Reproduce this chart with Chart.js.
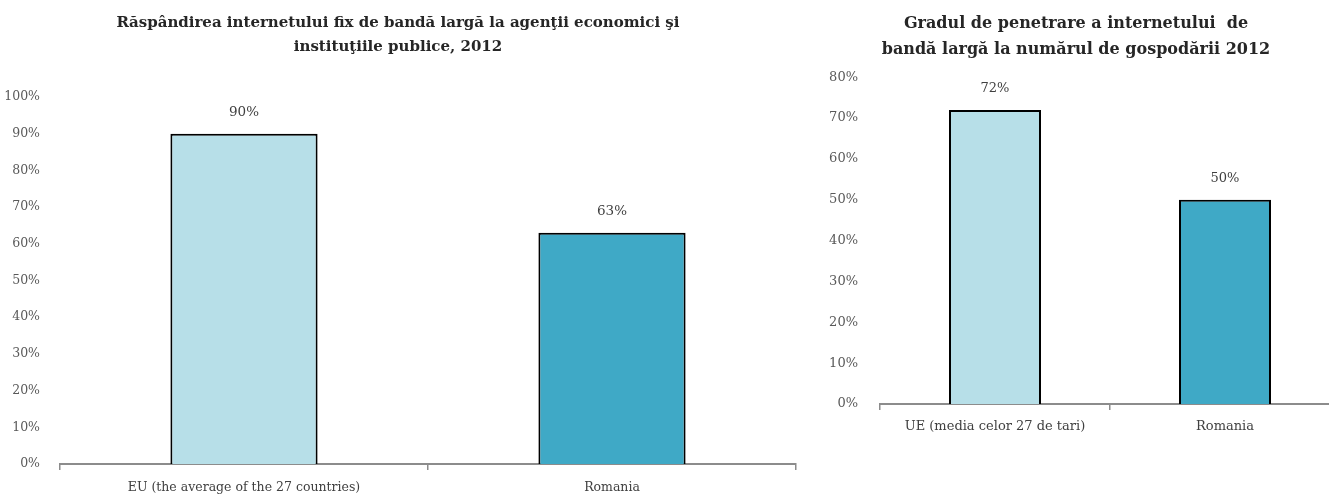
<!DOCTYPE html>
<html>
<head>
<meta charset="utf-8">
<script src="https://cdn.jsdelivr.net/npm/chart.js@4/dist/chart.umd.min.js"></script>
<style>
    html, body { margin: 0; padding: 0; background: #fff; overflow: hidden; width: 1329px; height: 497px; }
    canvas { position: absolute; top: 0; }
    #graficStanga { left: 0; }
    #graficDreapta { left: 812px; }
</style>
</head>
<body>
<canvas id="graficStanga" width="810" height="497"></canvas>
<canvas id="graficDreapta" width="540" height="497"></canvas>
<script>
const categoriiStanga = ["EU (the average of the 27 countries)", "Romania"];
const valoriStanga = [90, 63];
const categoriiDreapta = ["UE (media celor 27 de tari)", "Romania"];
const valoriDreapta = [72, 50];
const culoriBare = ["#b7dfe8", "#3fa9c6"];

const titluStanga = [
    "Răspândirea internetului fix de bandă largă la agenţii economici şi",
    "instituţiile publice, 2012"
];
const titluDreapta = [
    "Gradul de penetrare a internetului  de",
    "bandă largă la numărul de gospodării 2012"
];

// eticheta cu procentul deasupra fiecarei bare
const pluginEtichete = {
    id: "etichete",
    afterDatasetsDraw(chart, args, opts) {
        const ctx = chart.ctx;
        const meta = chart.getDatasetMeta(0);
        const date = chart.data.datasets[0].data;
        ctx.save();
        ctx.font = opts.font;
        ctx.fillStyle = "#404040";
        ctx.textAlign = "center";
        ctx.textBaseline = "middle";
        meta.data.forEach((bara, i) => {
            ctx.fillText(date[i] + "%", bara.x, bara.y - 21);
        });
        ctx.restore();
    }
};

function construiesteGrafic(lienzo, cfg) {
    return new Chart(lienzo, {
        type: "bar",
        data: {
            labels: cfg.categorii,
            datasets: [{
                data: cfg.valori,
                backgroundColor: culoriBare,
                borderColor: "#000000",
                borderWidth: 2,
                borderSkipped: "bottom",
                barPercentage: 0.4,
                categoryPercentage: 1
            }]
        },
        plugins: [pluginEtichete],
        options: {
            responsive: false,
            animation: false,
            layout: { padding: { left: 0, right: cfg.dreapta, top: 0, bottom: 0 } },
            plugins: {
                legend: { display: false },
                tooltip: { enabled: false },
                etichete: { font: cfg.fontEticheta },
                title: {
                    display: true,
                    text: cfg.titlu,
                    color: "#262626",
                    font: { family: "DejaVu Serif", size: cfg.marimeTitlu, weight: "bold", lineHeight: cfg.interlinie },
                    padding: { top: 11, bottom: cfg.subTitlu }
                }
            },
            scales: {
                y: {
                    min: 0,
                    max: cfg.max,
                    ticks: {
                        stepSize: 10,
                        padding: cfg.padY,
                        color: "#595959",
                        font: { family: "DejaVu Serif", size: cfg.marimeAxa },
                        callback: v => v + "%"
                    },
                    grid: { display: false },
                    border: { display: false },
                    afterFit: axa => { axa.width = cfg.latimeY; }
                },
                x: {
                    ticks: {
                        padding: cfg.padX,
                        color: "#404040",
                        font: { family: "DejaVu Serif", size: cfg.marimeAxa },
                        maxRotation: 0,
                        autoSkip: false
                    },
                    grid: {
                        drawOnChartArea: false,
                        drawTicks: true,
                        tickLength: 6,
                        color: "#8c8c8c",
                        lineWidth: 1.5
                    },
                    border: { color: "#8c8c8c", width: 2 },
                    afterFit: axa => { axa.height = cfg.inaltimeX; }
                }
            }
        }
    });
}

document.addEventListener("DOMContentLoaded", () => {
    construiesteGrafic(document.getElementById("graficStanga"), {
        categorii: categoriiStanga,
        valori: valoriStanga,
        titlu: titluStanga,
        max: 100,
        dreapta: 14,
        marimeTitlu: 15,
        marimeAxa: 12.5,
        fontEticheta: "13.5px 'DejaVu Serif'",
        interlinie: 1.6,
        subTitlu: 38,
        padY: 12,
        padX: 10,
        latimeY: 60,
        inaltimeX: 33
    });

    construiesteGrafic(document.getElementById("graficDreapta"), {
        categorii: categoriiDreapta,
        valori: valoriDreapta,
        titlu: titluDreapta,
        max: 80,
        dreapta: 12,
        marimeTitlu: 16,
        marimeAxa: 13,
        fontEticheta: "13px 'DejaVu Serif'",
        interlinie: 1.6,
        subTitlu: 15,
        padY: 14,
        padX: 9,
        latimeY: 68,
        inaltimeX: 93
    });
});
</script>
</body>
</html>
